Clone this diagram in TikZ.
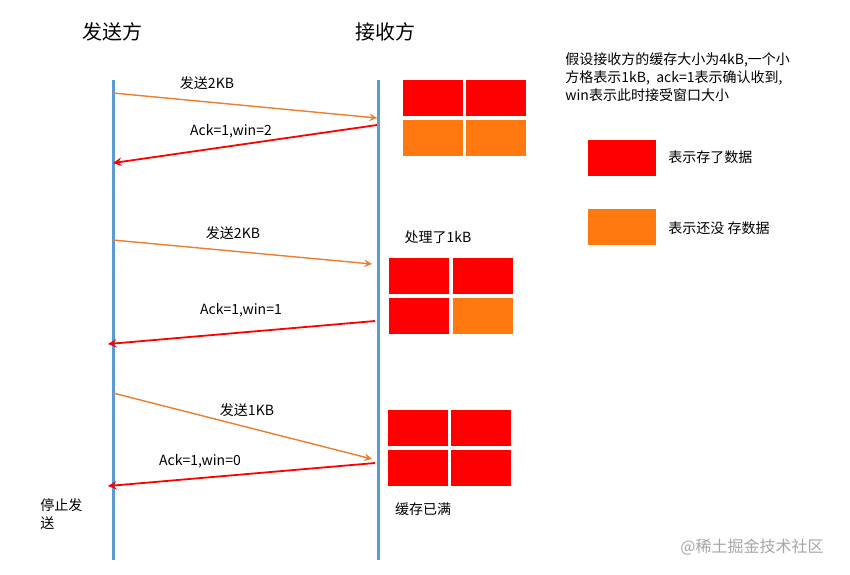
\documentclass[tikz,border=0pt]{standalone}
\usepackage{fontspec}
\setmainfont{Noto Sans CJK SC}
\definecolor{lineblue}{RGB}{91,155,213}
\definecolor{sendorange}{RGB}{237,125,49}
\definecolor{cellorange}{RGB}{255,120,16}
\begin{document}
\begin{tikzpicture}[x=0.5pt,y=-0.5pt]
\tikzstyle{title} = [font=\fontsize{10}{12}\selectfont];
\tikzstyle{lbl} = [font=\fontsize{7}{9}\selectfont,inner sep=1];
\tikzstyle{full} = [fill=red,draw=white,line width=0.6,minimum width=31,minimum height=18.5,inner sep=0];
\tikzstyle{empty} = [fill=cellorange,draw=white,line width=0.6,minimum width=31,minimum height=18.5,inner sep=0];
\tikzstyle{life} = [color=lineblue,line width=1.5];
\tikzstyle{send} = [color=sendorange,line width=0.7,-stealth];
\tikzstyle{ack} = [color=red,line width=0.9,-stealth];
\useasboundingbox (0,0) rectangle (850,574);
\node [title] (sender) at (112,32) {发送方};
\node [title] (receiver) at (385,32) {接收方};
\coordinate (s0) at (113,80); \coordinate (s1) at (113,560);
\coordinate (r0) at (378,80); \coordinate (r1) at (378,560);
\draw [life] (s0) -- (s1);
\draw [life] (r0) -- (r1);
% first exchange
\coordinate (a1) at (113,93); \coordinate (b1) at (377,118);
\coordinate (a2) at (377,125); \coordinate (b2) at (113,163);
\draw [send] (a1) -- (b1);
\draw [ack] (a2) -- (b2);
\node [lbl] (t1) at (207,83) {发送2KB};
\node [lbl] (t2) at (231,131) {Ack=1,win=2};
\node [full] (c11) at (433,98) {}; \node [full] (c12) at (496,98) {};
\node [empty] (c13) at (433,138) {}; \node [empty] (c14) at (496,138) {};
% second exchange
\coordinate (a3) at (113,240); \coordinate (b3) at (372,264);
\coordinate (a4) at (375,321); \coordinate (b4) at (108,344);
\draw [send] (a3) -- (b3);
\draw [ack] (a4) -- (b4);
\node [lbl] (t3) at (233,233) {发送2KB};
\node [lbl] (t4) at (241,310) {Ack=1,win=1};
\node [lbl] (t5) at (438,237) {处理了1kB};
\node [full] (c21) at (419,276) {}; \node [full] (c22) at (483,276) {};
\node [full] (c23) at (419,316) {}; \node [empty] (c24) at (483,316) {};
% third exchange
\coordinate (a5) at (113,393); \coordinate (b5) at (372,459);
\coordinate (a6) at (375,463); \coordinate (b6) at (108,486);
\draw [send] (a5) -- (b5);
\draw [ack] (a6) -- (b6);
\node [lbl] (t6) at (247,410) {发送1KB};
\node [lbl] (t7) at (200,461) {Ack=1,win=0};
\node [full] (c31) at (418,428) {}; \node [full] (c32) at (481,428) {};
\node [full] (c33) at (418,468) {}; \node [full] (c34) at (481,468) {};
\node [lbl] (t8) at (423,509) {缓存已满};
\node [lbl,align=left,anchor=north west] (t9) at (38,496) {停止发\\送};
% legend
\node [lbl,align=left,anchor=north west] (note) at (563,50) {假设接收方的缓存大小为4kB,一个小\\方格表示1kB,\ \ ack=1表示确认收到,\\win表示此时接受窗口大小};
\node [full,minimum width=35,minimum height=19] (k1) at (622,158) {};
\node [lbl,anchor=west] (k1t) at (666,157) {表示存了数据};
\node [empty,minimum width=35,minimum height=19] (k2) at (622,227) {};
\node [lbl,anchor=west] (k2t) at (666,228) {表示还没 存数据};
\node [lbl,color=gray!70,font=\fontsize{8}{10}\selectfont] (wm) at (752,547) {@稀土掘金技术社区};
\end{tikzpicture}
\end{document}
